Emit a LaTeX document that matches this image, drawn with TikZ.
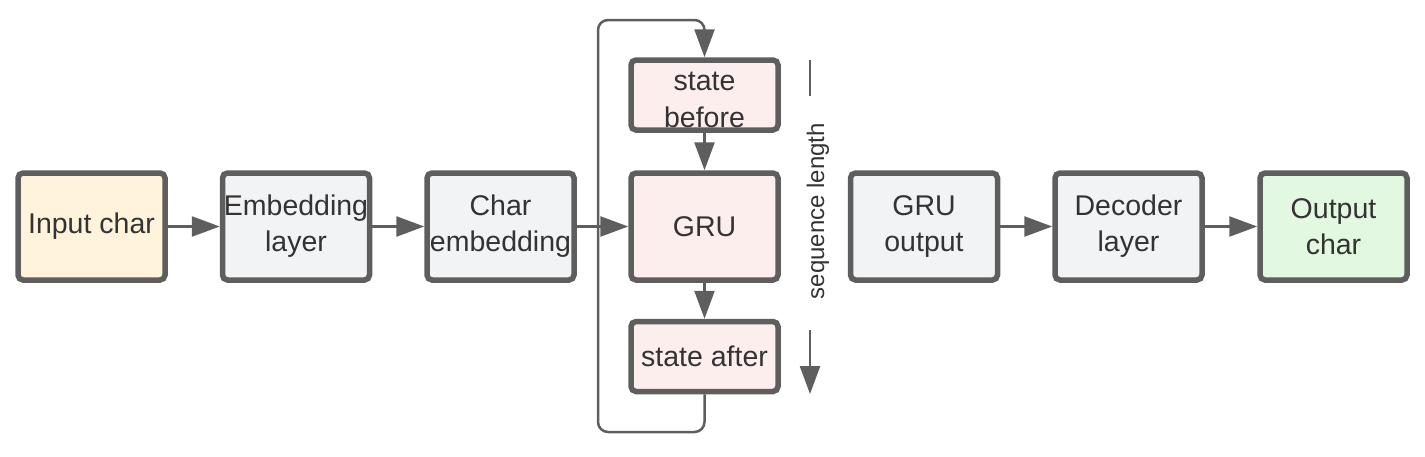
\documentclass[tikz,border=0pt]{standalone}
\usepackage{fontspec}
\setmainfont{Liberation Sans}
\usetikzlibrary{arrows.meta}
\definecolor{edge}{HTML}{5E5E5E}
\definecolor{txt}{HTML}{333333}
\definecolor{fyellow}{HTML}{FFF3DC}
\definecolor{fgray}{HTML}{F2F3F5}
\definecolor{fpink}{HTML}{FDEEEE}
\definecolor{fgreen}{HTML}{E2F8E1}
\tikzset{
  box/.style={draw=edge, line width=5.5pt, rounded corners=5pt, minimum width=147pt, minimum height=107pt, inner sep=0pt, text=txt, font=\fontsize{28.5}{36}\selectfont, align=center},
  smallbox/.style={box, minimum height=70pt},
  conn/.style={draw=edge, line width=2.5pt, -{Triangle[length=28pt,width=20pt]}},
}
\begin{document}
\begin{tikzpicture}[x=1pt,y=-1pt]
\useasboundingbox (0,0) rectangle (1425,456);
\node[box, fill=fyellow] (inp) at (91.5,226.5) {Input char};
\node[box, fill=fgray] (emb) at (296,226.5) {Embedding\\layer};
\node[box, fill=fgray] (che) at (500.5,226.5) {Char\\embedding};
\node[smallbox, fill=fpink] (sb) at (704.5,95) {\raisebox{-32pt}[0pt][0pt]{\shortstack{state\\[13pt]before}}};
\node[box, fill=fpink] (gru) at (704.5,226.5) {GRU};
\node[smallbox, fill=fpink] (sa) at (704.5,356.5) {state after};
\node[box, fill=fgray] (gout) at (924,226.5) {GRU\\output};
\node[box, fill=fgray] (dec) at (1128.5,226.5) {Decoder\\layer};
\node[box, fill=fgreen] (out) at (1333.5,226.5) {Output\\char};
\draw[conn] (inp) -- (emb);
\draw[conn] (emb) -- (che);
\draw[conn] (che) -- (gru);
\draw[conn] (sb) -- (gru);
\draw[conn] (gru) -- (sa);
\draw[conn] (gout) -- (dec);
\draw[conn] (dec) -- (out);
\coordinate (lb) at (598,432);
\coordinate (lt) at (598,20);
\draw[conn, rounded corners=10pt] (sa.south) |- (lb) -- (lt) -| (sb.north);
\node[rotate=90, text=txt, font=\fontsize{24}{28}\selectfont, inner sep=0pt] (seq) at (818,211) {sequence length};
\coordinate (st1) at (810,60);
\coordinate (st2) at (810,96);
\draw[draw=edge, line width=2.5pt] (st1) -- (st2);
\coordinate (sa1) at (810,330);
\coordinate (sa2) at (810,394);
\draw[conn] (sa1) -- (sa2);
\end{tikzpicture}
\end{document}
